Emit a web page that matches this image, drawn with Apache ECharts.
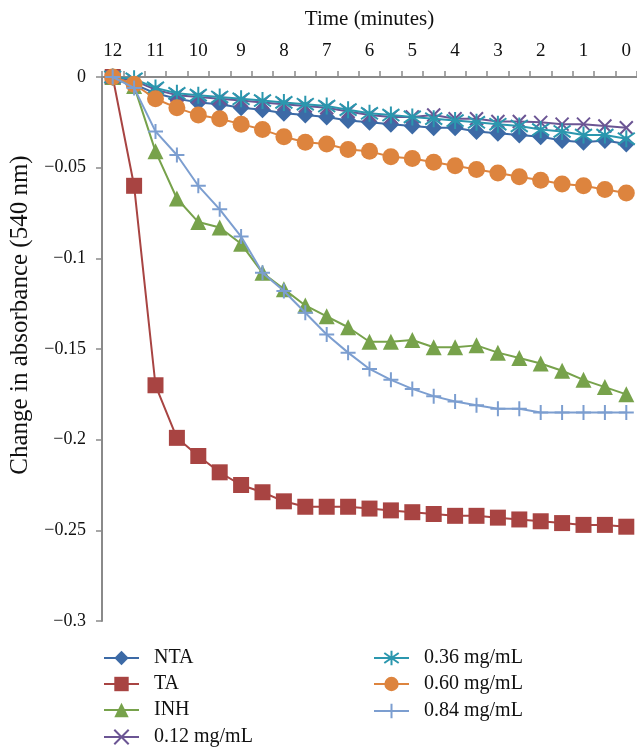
<!DOCTYPE html>
<html>
<head>
<meta charset="utf-8">
<style>html,body{margin:0;padding:0;background:#fff;}#chart{width:637px;height:747px;}</style>
<script src="https://cdn.jsdelivr.net/npm/echarts@6/dist/echarts.min.js"></script>
</head>
<body>
<div id="chart"></div>
<script>
const categories = ['12','11.5','11','10.5','10','9.5','9','8.5','8','7.5','7','6.5','6','5.5','5','4.5','4','3.5','3','2.5','2','1.5','1','0.5','0'];
const seriesNames = ['NTA','TA','INH','0.12 mg/mL','0.36 mg/mL','0.60 mg/mL','0.84 mg/mL'];
const ntaValues = [0,-0.004,-0.009,-0.012,-0.014,-0.015,-0.017,-0.018,-0.020,-0.021,-0.022,-0.024,-0.025,-0.026,-0.027,-0.028,-0.028,-0.030,-0.031,-0.032,-0.033,-0.035,-0.036,-0.035,-0.037];
const taValues = [0,-0.060,-0.170,-0.199,-0.209,-0.218,-0.225,-0.229,-0.234,-0.237,-0.237,-0.237,-0.238,-0.239,-0.240,-0.241,-0.242,-0.242,-0.243,-0.244,-0.245,-0.246,-0.247,-0.247,-0.248];
const inhValues = [0,-0.005,-0.041,-0.067,-0.080,-0.083,-0.092,-0.108,-0.117,-0.126,-0.132,-0.138,-0.146,-0.146,-0.145,-0.149,-0.149,-0.148,-0.152,-0.155,-0.158,-0.162,-0.167,-0.171,-0.175];
const c012Values = [0,-0.002,-0.007,-0.010,-0.011,-0.012,-0.013,-0.014,-0.015,-0.016,-0.017,-0.019,-0.021,-0.022,-0.022,-0.021,-0.023,-0.023,-0.0245,-0.0245,-0.025,-0.026,-0.026,-0.027,-0.028];
const c036Values = [0,-0.001,-0.006,-0.009,-0.010,-0.011,-0.012,-0.013,-0.014,-0.015,-0.016,-0.018,-0.020,-0.021,-0.022,-0.023,-0.024,-0.025,-0.026,-0.027,-0.029,-0.030,-0.032,-0.032,-0.034];
const c060Values = [0,-0.004,-0.012,-0.017,-0.021,-0.023,-0.026,-0.029,-0.033,-0.036,-0.037,-0.040,-0.041,-0.044,-0.045,-0.047,-0.049,-0.051,-0.053,-0.055,-0.057,-0.059,-0.060,-0.062,-0.064];
const c084Values = [0,-0.006,-0.030,-0.043,-0.060,-0.073,-0.088,-0.108,-0.118,-0.130,-0.142,-0.152,-0.161,-0.167,-0.172,-0.176,-0.179,-0.181,-0.183,-0.183,-0.185,-0.185,-0.185,-0.185,-0.185];

const FONT = '"Liberation Serif","DejaVu Serif",serif';
const colors = ['#3C6AA6','#A84442','#77A24B','#6B5594','#2B97AE','#DD843E','#7C9ED0'];
const allValues = [ntaValues, taValues, inhValues, c012Values, c036Values, c060Values, c084Values];
const symbols = ['diamond','rect','triangle','path://M0,0L10,10M10,0L0,10','path://M5,0L5,10M0,1.5L10,8.5M10,1.5L0,8.5','circle','path://M5,0L5,10M0,5L10,5'];
const symbolSizes = [17,16,16,13,17,17,15];
const stroked = [false,false,false,true,true,false,true];

const chart = echarts.init(document.getElementById('chart'), null, {renderer:'canvas'});
const series = seriesNames.map((name,i)=>({
  name: name,
  type: 'line',
  data: allValues[i],
  symbol: symbols[i],
  symbolSize: symbolSizes[i],
  symbolKeepAspect: true,
  showAllSymbol: true,
  animation: false,
  lineStyle: {color: colors[i], width: 2},
  itemStyle: stroked[i] ? {color: colors[i], borderColor: colors[i], borderWidth: 2, opacity: 1} : {color: colors[i], borderWidth: 0, opacity: 1},
  emphasis: {disabled: true},
  z: 2 + i
}));

// legend placement: two columns
const legendLeft = [103,103,103,103,373,373,373];
const legendTop = [648,674,700,727,648,674,701];
const legends = seriesNames.map((name,i)=>({
  data: [name],
  left: legendLeft[i], top: legendTop[i],
  orient: 'vertical', padding: 0,
  itemWidth: 35, itemHeight: 18,
  textStyle: {fontFamily: FONT, fontSize: 20, color: '#111', padding: [0,0,0,10]},
  selectedMode: false
}));

chart.setOption({
  animation: false,
  backgroundColor: '#fff',
  textStyle: {fontFamily: FONT},
  grid: {left: 102, right: -4, top: 77, bottom: 126, containLabel: false},
  xAxis: {
    type: 'category',
    position: 'top',
    data: categories,
    boundaryGap: true,
    name: 'Time (minutes)',
    nameLocation: 'middle',
    nameGap: 47,
    nameTextStyle: {fontFamily: FONT, fontSize: 21, color: '#111'},
    axisLine: {show: true, onZero: false, lineStyle: {color: '#8a8a8a', width: 2}},
    axisTick: {show: true, interval: 0, length: 6, inside: false, lineStyle: {color: '#8a8a8a', width: 1.5}},
    axisLabel: {interval: 1, margin: 16, fontFamily: FONT, fontSize: 19, color: '#111'},
    splitLine: {show: false}
  },
  yAxis: {
    type: 'value',
    min: -0.3,
    max: 0,
    interval: 0.05,
    axisLine: {show: true, onZero: false, lineStyle: {color: '#8a8a8a', width: 2}},
    axisTick: {show: true, length: 6, lineStyle: {color: '#8a8a8a', width: 1.5}},
    axisLabel: {
      margin: 16, fontFamily: FONT, fontSize: 18, color: '#111',
      formatter: v => { const a = parseFloat(Math.abs(v).toFixed(2)); return a === 0 ? '0' : '\u2212' + a; }
    },
    splitLine: {show: false}
  },
  legend: legends,
  graphic: [{
    type: 'text',
    x: 8, y: 315,
    rotation: Math.PI/2,
    style: {text: 'Change in absorbance (540 nm)', fontFamily: FONT, fontSize: 25, fill: '#111', align: 'center', verticalAlign: 'top'}
  }],
  series: series
});
</script>
</body>
</html>
